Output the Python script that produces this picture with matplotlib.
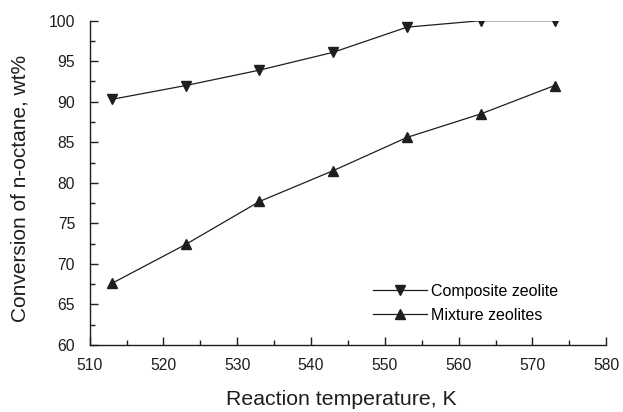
import matplotlib
matplotlib.use("Agg")
import matplotlib.pyplot as plt
from matplotlib.ticker import MultipleLocator

plt.rcParams['font.family'] = ['Liberation Sans', 'DejaVu Sans']

# datos
temperature = [513, 523, 533, 543, 553, 563, 573]
composite = [90.3, 92.0, 93.9, 96.1, 99.2, 100.0, 100.0]
mixture = [67.6, 72.4, 77.7, 81.5, 85.6, 88.5, 92.0]

labels = ["Composite zeolite", "Mixture zeolites"]
col = "#1e1e1e"

fig = plt.figure(figsize=(6.23, 4.12), dpi=100)
ax = fig.add_axes([0.144, 0.1626, 0.829, 0.7872])

ax.plot(temperature, composite, color=col, lw=0.9, marker='v', ms=7.5,
        label=labels[0])
ax.plot(temperature, mixture, color=col, lw=0.9, marker='^', ms=7.5,
        label=labels[1])

ax.set_xlim(510, 580)
ax.set_ylim(60, 100)
ax.xaxis.set_major_locator(MultipleLocator(10))
ax.xaxis.set_minor_locator(MultipleLocator(5))
ax.yaxis.set_major_locator(MultipleLocator(5))
ax.yaxis.set_minor_locator(MultipleLocator(2.5))

for s in ['top', 'right']:
    ax.spines[s].set_visible(False)
for s in ['left', 'bottom']:
    ax.spines[s].set_linewidth(1.0)
    ax.spines[s].set_color(col)

ax.tick_params(which='major', direction='in', length=6, width=1.0,
               labelsize=11.3, colors=col)
ax.tick_params(axis='y', which='major', pad=10.5)
ax.tick_params(axis='x', which='major', pad=9.5)
ax.tick_params(which='minor', direction='in', length=3.5, width=1.0, colors=col)

ax.set_xlabel("Reaction temperature, K", fontsize=15.3, color=col)
ax.set_ylabel("Conversion of n-octane, wt%", fontsize=15.0, color=col)
ax.xaxis.set_label_coords(0.487, -0.139)
ax.yaxis.set_label_coords(-0.117, 0.484)

ax.legend(loc='upper left', bbox_to_anchor=(0.5364, 0.208), frameon=False,
          fontsize=11.5, handlelength=3.4, handletextpad=0.25,
          labelspacing=0.55, borderaxespad=0)

fig.savefig("out.png", dpi=100)
